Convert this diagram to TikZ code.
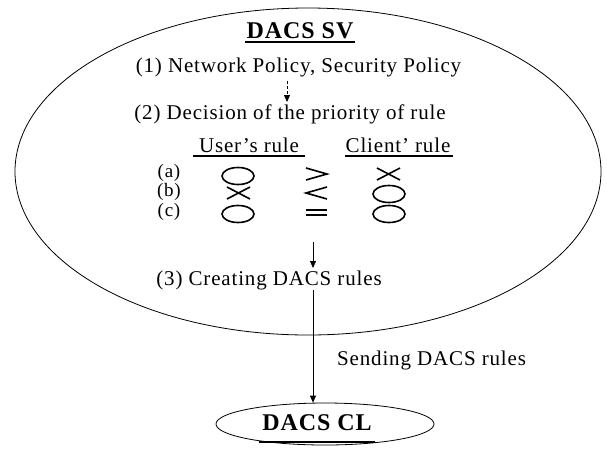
\documentclass[tikz,border=0pt]{standalone}
\usepackage{fontspec}
\setmainfont{Liberation Serif}[LetterSpace=4]
\usetikzlibrary{arrows.meta,shapes.geometric}
\tikzset{
  txt/.style={inner sep=0pt, font=\fontsize{21}{23}\selectfont},
  lbl/.style={inner sep=0pt, font=\fontsize{19}{21}\selectfont},
  ttl/.style={inner sep=0pt, font=\fontsize{24}{26}\selectfont\bfseries},
  sym/.style={line width=1.6pt},
  circ/.style={draw, ellipse, line width=1.6pt, inner sep=0pt, minimum width=32pt, minimum height=17pt},
  arr/.style={-{Triangle[length=7pt,width=6pt]}, line width=0.8pt},
  ell/.style={draw, line width=0.8pt, ellipse, inner sep=0pt},
}
\begin{document}
\begin{tikzpicture}[x=1pt,y=-1pt]
\useasboundingbox (0,0) rectangle (607,448);
% big ellipse
\node[ell, minimum width=586pt, minimum height=327pt] (sv) at (308,171.5) {};
% title
\node[ttl] (svt) at (300,31) {DACS SV};
\draw[line width=1.5pt] (245,42) -- (355,42);
\node[txt] (p1) at (298.5,67) {(1) Network Policy, Security Policy};
\node[txt] (p2) at (290,114) {(2) Decision of the priority of rule};
\draw[arr, dash pattern=on 3pt off 2pt] (287,81) -- (287,102);
% column heads
\node[txt] (ur) at (249,145) {User's rule};
\node[txt] (cr) at (398,145) {Client' rule};
\draw[line width=1.5pt] (193,156) -- (305,156);
\draw[line width=1.5pt] (345,156) -- (453,156);
% rows
\node[lbl] (ra) at (169,173) {(a)};
\node[lbl] (rb) at (169,192) {(b)};
\node[lbl] (rc) at (169,212) {(c)};
% (a)
\node[circ] (ua) at (238,176) {};
\draw[sym] (306,168) -- (327,174) -- (306,180);
\draw[sym] (377,168) -- (400,180) (377,180) -- (400,168);
% (b)
\draw[sym] (227,187) -- (250,199) (227,199) -- (250,187);
\draw[sym] (327,187) -- (306,193) -- (327,199);
\node[circ] (cb) at (389,194) {};
% (c)
\node[circ] (uc) at (238,214) {};
\draw[line width=1.2pt] (306,210) -- (327,210) (306,215) -- (327,215);
\node[circ] (cc) at (389,214) {};
% arrow to (3)
\coordinate (a3s) at (313,242);
\coordinate (a3e) at (313,268);
\node[txt] (p3) at (269,280) {(3) Creating DACS rules};
\draw[arr] (a3s) -- (a3e);
% small ellipse
\node[ell, minimum width=218pt, minimum height=42pt] (cl) at (325,424) {};
\node[ttl] (clt) at (317,423) {DACS CL};
\draw[line width=1.5pt] (259,442) -- (375,442);
\coordinate (ls) at (313,290);
\draw[arr] (ls) -- (cl.north -| ls);
\node[txt, anchor=west] (send) at (337,360) {Sending DACS rules};
\end{tikzpicture}
\end{document}
